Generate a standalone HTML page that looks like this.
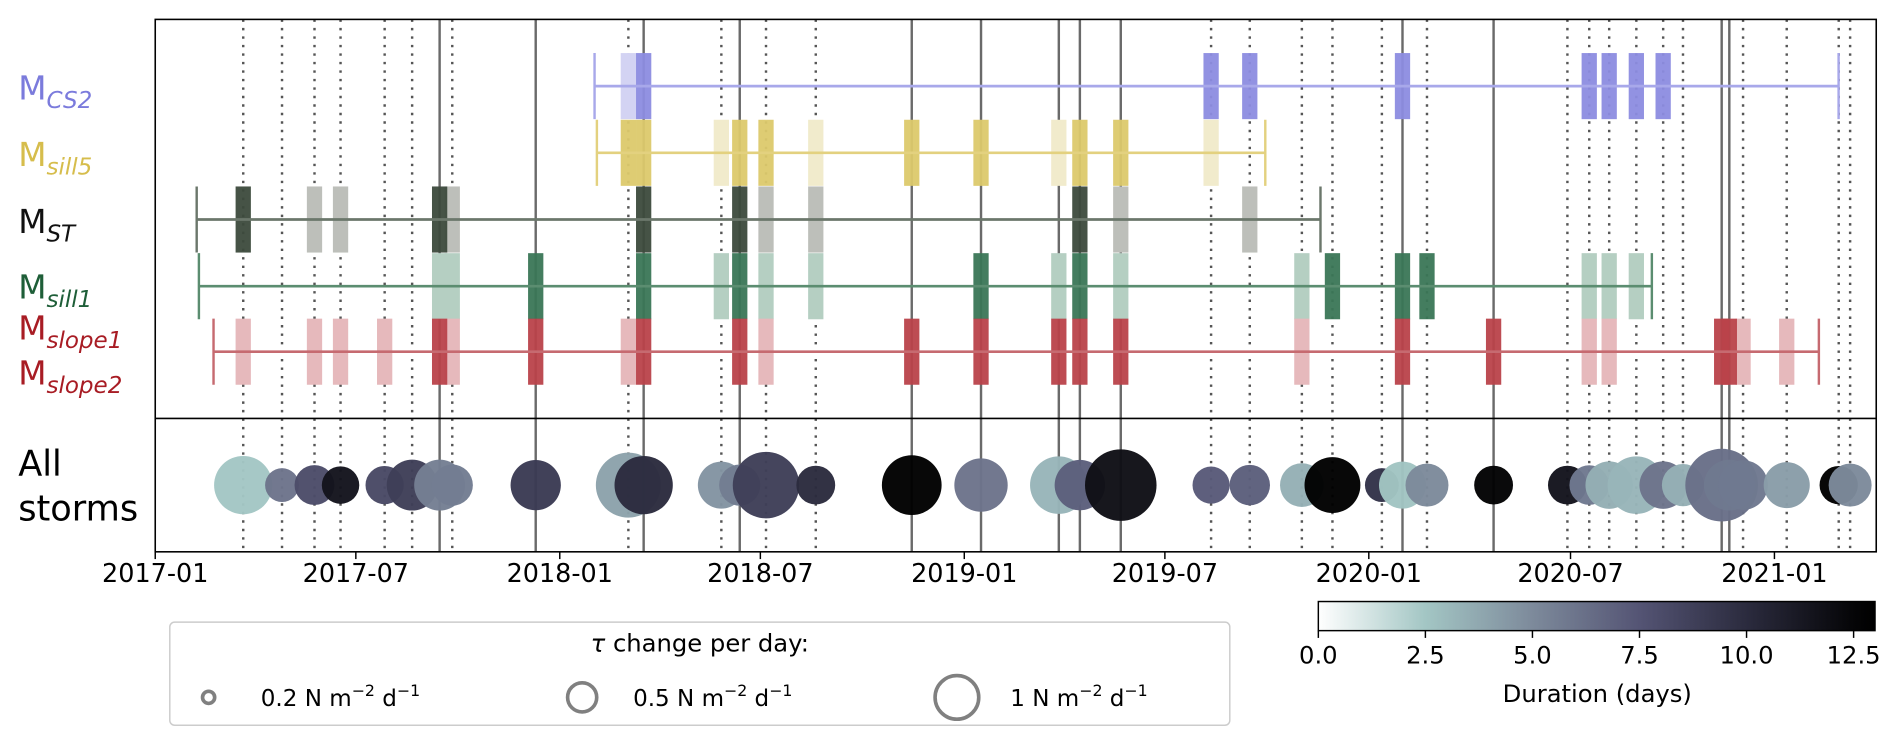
<!DOCTYPE html>
<html><head><meta charset="utf-8">
<style>
html,body{margin:0;padding:0;background:#fff;}
svg{display:block;font-family:"DejaVu Sans","Liberation Sans",sans-serif;}
</style></head>
<body>
<svg id="chart" width="1892" height="741" viewBox="0 0 1560 611" preserveAspectRatio="none" xmlns="http://www.w3.org/2000/svg">
<defs>
<linearGradient id="cbgrad" x1="0" x2="1" y1="0" y2="0">
<stop offset="0" stop-color="#ffffff"/>
<stop offset="0.192" stop-color="#a3c6c4"/>
<stop offset="0.385" stop-color="#7d8a9b"/>
<stop offset="0.577" stop-color="#545474"/>
<stop offset="0.769" stop-color="#2b2b3e"/>
<stop offset="0.962" stop-color="#050507"/>
<stop offset="1" stop-color="#000000"/>
</linearGradient>
</defs>
<g id="layer-lines"></g>
<g id="layer-rows"></g>
<g id="layer-storms"></g>
<g id="layer-axes"></g>
<g font-size="27">
<text x="15" y="82" fill="#7b7bdc">M<tspan font-size="19" font-style="italic" dy="7">CS2</tspan></text>
<text x="15" y="137" fill="#d6bd4c">M<tspan font-size="19" font-style="italic" dy="7">sill5</tspan></text>
<text x="15" y="192" fill="#111">M<tspan font-size="19" font-style="italic" dy="7">ST</tspan></text>
<text x="15" y="246" fill="#1e5e38">M<tspan font-size="19" font-style="italic" dy="7">sill1</tspan></text>
<text x="15" y="280" fill="#a81c24">M<tspan font-size="19" font-style="italic" dy="7">slope1</tspan></text>
<text x="15" y="317" fill="#a81c24">M<tspan font-size="19" font-style="italic" dy="7">slope2</tspan></text>
<text x="15" y="392" fill="#000" font-size="29">All</text>
<text x="15" y="429" fill="#000" font-size="29">storms</text>
</g>
<g>
<rect x="1087" y="496" width="459" height="24" fill="url(#cbgrad)" stroke="#000" stroke-width="1.2"/>
<g id="cbticks"></g>
<text x="1317" y="579" font-size="20" text-anchor="middle">Duration (days)</text>
</g>
<g>
<rect x="140" y="513" width="874" height="85" rx="4" fill="#fff" stroke="#ccc" stroke-width="1.2"/>
<text x="577" y="537" font-size="20" text-anchor="middle"><tspan font-style="italic">τ</tspan> change per day:</text>
<g id="legend-entries"></g>
</g>
</svg>
<script>
// ---- data ----
const stormDay = [79.4,114.4,143.7,167.2,207,231.8,256.6,268,343.3,426.9,440.7,510.8,527.4,551.1,596,682.6,745.1,815.3,834.3,871.2,952.7,987.6,1034.6,1062.2,1106.8,1125.4,1147.5,1207.6,1274.2,1293.9,1311.9,1336.4,1360.6,1378.5,1413.4,1420.3,1432.7,1472.1,1519,1529.3];
const stormSolid = [0,0,0,0,0,0,1,0,1,0,1,0,1,0,0,1,1,1,1,1,0,0,0,0,0,1,0,1,0,0,0,0,0,0,1,1,0,0,0,0];
const stormRate = [1.6,0.54,0.75,0.66,0.69,1.22,1.22,0.8,1.19,1.99,1.6,1.04,0.8,2.08,0.71,1.68,1.34,1.56,1.2,2.41,0.65,0.77,0.9,1.47,0.54,1.04,0.87,0.71,0.71,0.74,1.06,1.56,1.06,0.84,2.49,1.22,1.16,1.0,0.69,0.87];
const stormDuration = [2.5,6.0,8.0,11.5,8.2,8.8,5.5,5.6,9.0,4.0,10.0,4.6,5.6,8.8,10.0,13.0,6.0,3.2,7.0,11.8,7.2,7.0,3.4,13.0,9.5,2.6,5.0,12.8,11.5,5.8,3.5,3.2,6.0,3.4,6.2,5.8,5.8,4.2,13.0,5.0];
const rowNames = ["cs2","sill5","st","sill1","slope"];
const rowStart = [396.4,398.5,37.4,39.4,52.6];
const rowEnd = [1518.9,1001.6,1051.4,1350.4,1501.1];
const rowStrong = [[11,21,22,26,30,31,32,33],[10,11,13,14,16,17,19,20],[1,7,11,13,19],[9,11,13,17,19,24,26,27],[7,9,11,13,16,17,18,19,20,26,28,35,36]];
const rowLight = [[10],[12,15,18,21],[3,4,8,14,15,20,22],[7,8,12,14,15,18,20,23,30,31,32],[1,3,4,5,8,10,14,23,30,31,37,38]];
const tickLabels = ["2017-01","2017-07","2018-01","2018-07","2019-01","2019-07","2020-01","2020-07","2021-01"];
const tickDays = [0,181,365,546,730,911,1095,1277,1461];
const cbTicks = [0,2.5,5,7.5,10,12.5];
const legendRates = [0.2,0.5,1];
const legendLabels = ["0.2","0.5","1"];

// ---- geometry ----
const X0=128, PXD=0.9138, TOP=16, DIV=345, BOT=455, BUBY=400;
const x = d => X0 + d*PXD;
const rowY = [71,126,181,236,290];
const rowH = 54.5;
const strongCol = ["#8c8ce0","#dcc96c","#3c4a3c","#3a7656","#b9424a"];
const lightCol = ["#d3d3f3","#f1ebcc","#bdbfba","#b5cfc2","#e6b9bc"];
const lineCol = ["#a8a8ea","#e3d17f","#6b776b","#5b8d70","#c66a70"];
const rScale = r => 19*Math.sqrt(r);
const cbX = v => 1087 + v*(459/13);
const cStops=[[0,[255,255,255]],[2.5,[163,198,196]],[5,[125,138,155]],[7.5,[84,84,116]],[10,[43,43,62]],[12.5,[5,5,7]],[13,[0,0,0]]];
function cmap(v){for(let i=1;i<cStops.length;i++){if(v<=cStops[i][0]){const a=cStops[i-1],b=cStops[i];const t=(v-a[0])/(b[0]-a[0]);return "rgb("+a[1].map((c,k)=>Math.round(c+(b[1][k]-c)*t)).join(",")+")";}}return "#000";}
const NS="http://www.w3.org/2000/svg";
function mk(tag,attrs,parent){const e=document.createElementNS(NS,tag);for(const k in attrs)e.setAttribute(k,attrs[k]);parent.appendChild(e);return e;}

// event lines
const gl=document.getElementById("layer-lines");
stormDay.forEach((d,i)=>{
  const l=mk("line",{x1:x(d),x2:x(d),y1:TOP,y2:BOT,stroke:stormSolid[i]?"#6a6a6a":"#555","stroke-width":2,"stroke-dasharray":stormSolid[i]?"none":"2,5"},gl);
  
  
});
// rows
const gr=document.getElementById("layer-rows");
rowNames.forEach((n,r)=>{
  const y=rowY[r];
  const g=mk("g",{},gr);
  
  
  rowLight[r].forEach(s=>{const b=mk("rect",{x:x(stormDay[s-1])-6.3,y:y-rowH/2,width:12.6,height:rowH,fill:lightCol[r]},g);
    
    });
  rowStrong[r].forEach(s=>{const b=mk("rect",{x:x(stormDay[s-1])-6.3,y:y-rowH/2,width:12.6,height:rowH,fill:strongCol[r],"fill-opacity":0.95},g);
    
    });
  const ln=mk("line",{x1:x(rowStart[r]),x2:x(rowEnd[r]),y1:y,y2:y,stroke:lineCol[r],"stroke-width":2.2},g);
  
  
  [rowStart[r],rowEnd[r]].forEach(d=>{const c=mk("line",{x1:x(d),x2:x(d),y1:y-rowH/2,y2:y+rowH/2,stroke:lineCol[r],"stroke-width":2},g);
    
    });
});
// storms
const gs=document.getElementById("layer-storms");
stormDay.forEach((d,i)=>{
  const c=mk("circle",{cx:x(d),cy:BUBY,r:rScale(stormRate[i]),fill:cmap(stormDuration[i]),"fill-opacity":0.97},gs);
  
  
});
// axes
const ga=document.getElementById("layer-axes");
const fr=mk("rect",{x:X0,y:TOP,width:1547-X0,height:BOT-TOP,fill:"none",stroke:"#000","stroke-width":1.3},ga);


const dv=mk("line",{x1:X0,x2:1547,y1:DIV,y2:DIV,stroke:"#000","stroke-width":1.3},ga);


tickLabels.forEach((t,i)=>{
  const tx=x(tickDays[i]);
  const tm=mk("line",{x1:tx,x2:tx,y1:BOT,y2:BOT+6,stroke:"#000","stroke-width":1.2},ga);
  
  
  const tl=mk("text",{x:tx,y:BOT+25,"font-size":21,"text-anchor":"middle"},ga);
  tl.textContent=t;
  
  
});
// colorbar ticks
const gc=document.getElementById("cbticks");
cbTicks.forEach(v=>{
  const tm=mk("line",{x1:cbX(v),x2:cbX(v),y1:520,y2:526,stroke:"#000","stroke-width":1.2},gc);
  
  
  const tl=mk("text",{x:cbX(v),y:547,"font-size":20,"text-anchor":"middle"},gc);
  tl.textContent=v.toFixed(1);
  
  
});
// legend
const gle=document.getElementById("legend-entries");
const legX=[172,480,789], legTX=[215,522,833];
legendRates.forEach((v,i)=>{
  const r=i==0?5:(i==1?12:18);
  const c=mk("circle",{cx:legX[i],cy:575,r:r,fill:"none",stroke:"#808080","stroke-width":3},gle);
  
  
  const t=mk("text",{x:legTX[i],y:582,"font-size":19},gle);
  
  
  t.innerHTML=legendLabels[i]+' N m<tspan dy="-8" font-size="13">−2</tspan><tspan dy="8"> d</tspan><tspan dy="-8" font-size="13">−1</tspan>';
});
</script>
</body></html>
